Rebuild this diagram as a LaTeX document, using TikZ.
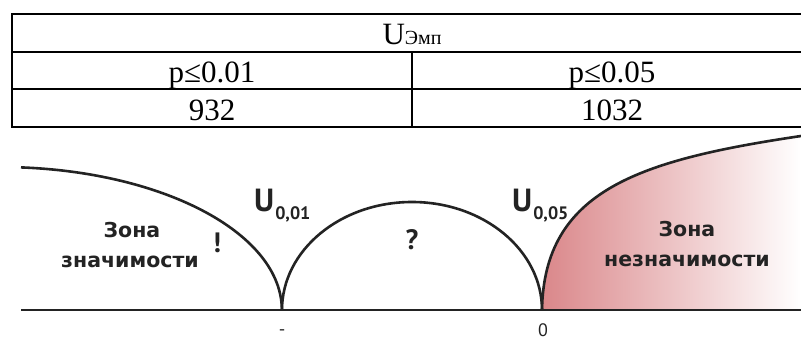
\documentclass[tikz,border=0pt]{standalone}
\usepackage{fontspec}
\setmainfont{Liberation Serif}
\newfontfamily\labfont{PT Sans}
\newfontfamily\zonefont{DejaVu Sans}
\definecolor{pinkL}{RGB}{218,135,138}
\definecolor{ink}{RGB}{35,35,35}
\tikzset{
  tline/.style={line width=1.6pt, black},
  curve/.style={line width=2.6pt, ink},
  ttext/.style={anchor=base, inner sep=0pt, font=\fontsize{31}{31}\selectfont},
  ltext/.style={anchor=base, inner sep=0pt, text=ink, font=\zonefont\bfseries\fontsize{20.5}{20.5}\selectfont},
  utext/.style={anchor=base west, inner sep=0pt, text=ink, font=\labfont\bfseries\fontsize{32}{32}\selectfont},
  punct/.style={anchor=base, inner sep=0pt, text=ink, font=\labfont\bfseries\fontsize{28}{28}\selectfont},
  axlab/.style={anchor=center, inner sep=0pt, text=ink, font=\labfont\fontsize{18}{18}\selectfont}
}
\newcommand{\subU}[1]{U\kern1pt\raisebox{-8pt}{\fontsize{18}{18}\selectfont #1}}
\begin{document}
\begin{tikzpicture}[x=1pt,y=1pt]
\useasboundingbox (0,0) rectangle (801,343);
\fill[white] (0,0) rectangle (801,343);
% ---------- table ----------
\coordinate (tTL) at (12,329);
\coordinate (tTR) at (801,329);
\coordinate (r1L) at (12,291);
\coordinate (r1R) at (801,291);
\coordinate (r2L) at (12,254);
\coordinate (r2R) at (801,254);
\coordinate (tBL) at (12,216);
\coordinate (tBR) at (801,216);
\coordinate (dT) at (412,291);
\coordinate (dB) at (412,216);
\draw[tline] (tTR) -- (tTL) -- (tBL) -- (tBR);
\draw[tline] (r1L) -- (r1R);
\draw[tline] (r2L) -- (r2R);
\draw[tline] (dT) -- (dB);
\node[ttext] (hdr) at (412,298) {U\raisebox{0pt}{\fontsize{20}{20}\selectfont Эмп}};
\node[ttext] (p1) at (212,260) {p≤0.01};
\node[ttext] (p2) at (612,260) {p≤0.05};
\node[ttext] (v1) at (212,222) {932};
\node[ttext] (v2) at (612,222) {1032};
% ---------- diagram ----------
\coordinate (bl) at (21,33);
\coordinate (br) at (801,33);
\coordinate (c1) at (282,33);
\coordinate (c2) at (542,33);
\coordinate (lt) at (21,175.6);
\coordinate (rt) at (801,207);
\shade[left color=pinkL, right color=white]
  (c2) .. controls (544,153) and (640,183) .. (rt) -- (br) -- cycle;
\draw[curve] (bl) -- (br);
\draw[curve] (lt) arc[start angle=85.7, end angle=0, x radius=282pt, y radius=143pt];
\draw[curve] (c1) arc[start angle=180, end angle=0, x radius=130pt, y radius=108pt];
\draw[curve] (c2) .. controls (544,153) and (640,183) .. (rt);
% labels
\node[ltext] (z1a) at (132,105) {Зона};
\node[ltext] (z1b) at (130,75) {значимости};
\node[ltext] (z2a) at (687,106) {Зона};
\node[ltext] (z2b) at (687,76) {незначимости};
\node[punct] (ex) at (217,90) {!};
\node[punct] (qu) at (412,93) {?};
\node[utext] (u1) at (254,131) {\subU{0,01}};
\node[utext] (u2) at (512,131) {\subU{0,05}};
\node[axlab] (m) at (282,10) {-};
\node[axlab] (z) at (543,13) {0};
\end{tikzpicture}
\end{document}
